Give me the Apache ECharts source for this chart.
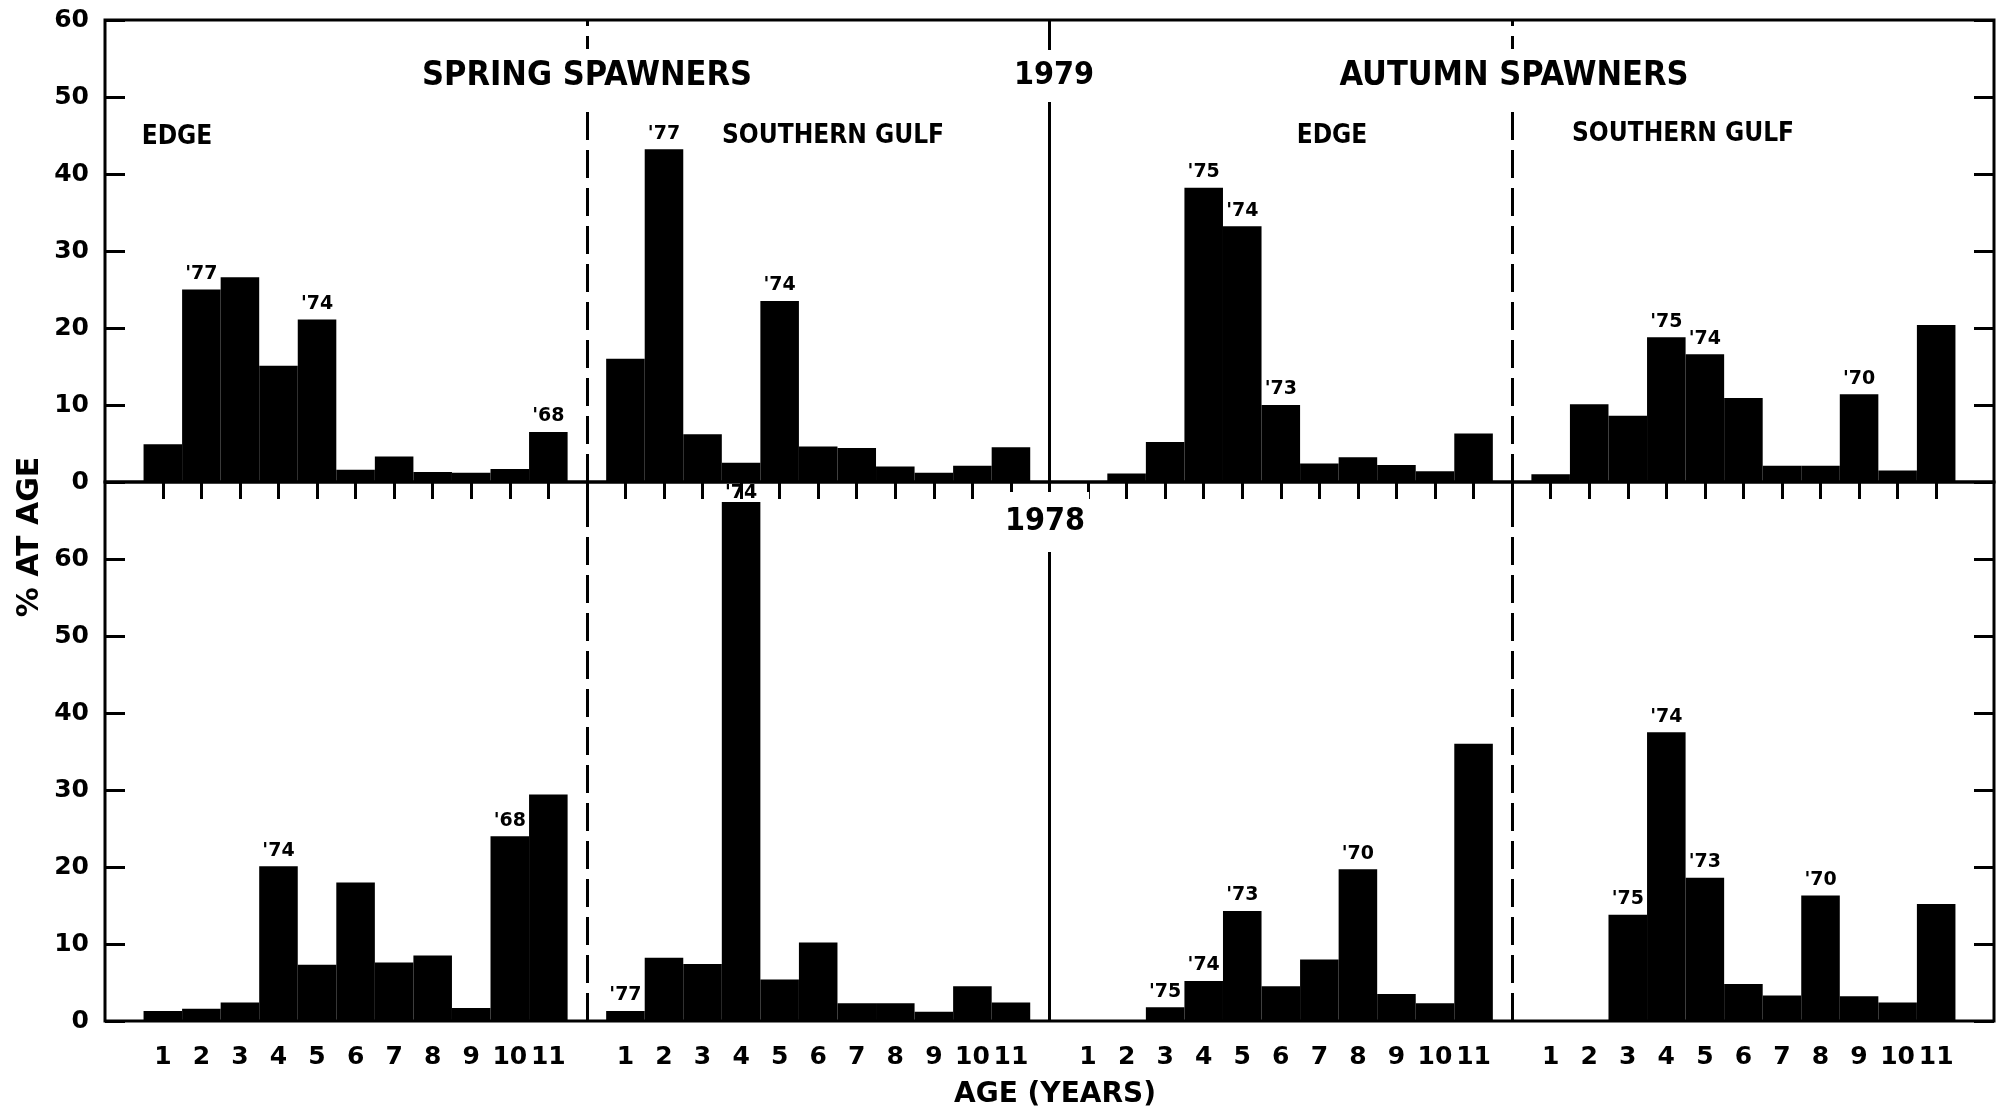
<!DOCTYPE html>
<html>
<head>
<meta charset="utf-8">
<script src="https://cdn.jsdelivr.net/npm/echarts@6/dist/echarts.min.js"></script>
<style>
  html, body { margin: 0; padding: 0; background: #fff; }
  #chart { width: 1996px; height: 1112px; }
</style>
</head>
<body>
<div id="chart"></div>
<script>
// ages on the x axis of every panel
const ageLabels = ['1', '2', '3', '4', '5', '6', '7', '8', '9', '10', '11'];

// % at age, 1979 (top row)
const spring1979Edge = [4.9, 25.0, 26.6, 15.1, 21.1, 1.6, 3.3, 1.3, 1.2, 1.7, 6.5];
const spring1979Gulf = [16.0, 43.2, 6.2, 2.5, 23.5, 4.6, 4.4, 2.0, 1.2, 2.1, 4.5];
const autumn1979Edge = [0, 1.1, 5.2, 38.2, 33.2, 10.0, 2.4, 3.2, 2.2, 1.4, 6.3];
const autumn1979Gulf = [1.0, 10.1, 8.6, 18.8, 16.6, 10.9, 2.1, 2.1, 11.4, 1.5, 20.4];

// % at age, 1978 (bottom row)
const spring1978Edge = [1.3, 1.6, 2.4, 20.1, 7.3, 18.0, 7.6, 8.5, 1.7, 24.0, 29.4];
const spring1978Gulf = [1.3, 8.2, 7.4, 67.4, 5.4, 10.2, 2.3, 2.3, 1.2, 4.5, 2.4];
const autumn1978Edge = [0, 0, 1.8, 5.2, 14.3, 4.5, 8.0, 19.7, 3.5, 2.3, 36.0];
const autumn1978Gulf = [0, 0, 13.8, 37.5, 18.6, 4.8, 3.3, 16.3, 3.2, 2.4, 15.2];

// year-class tags: [age, text]
const tagsSpring1979Edge = [[2, "'77"], [5, "'74"], [11, "'68"]];
const tagsSpring1979Gulf = [[2, "'77"], [5, "'74"]];
const tagsAutumn1979Edge = [[4, "'75"], [5, "'74"], [6, "'73"]];
const tagsAutumn1979Gulf = [[4, "'75"], [5, "'74"], [9, "'70"]];
const tagsSpring1978Edge = [[4, "'74"], [10, "'68"]];
const tagsSpring1978Gulf = [[1, "'77"], [4, "'74"]];
const tagsAutumn1978Edge = [[3, "'75"], [4, "'74"], [5, "'73"], [8, "'70"]];
const tagsAutumn1978Gulf = [[3, "'75"], [4, "'74"], [5, "'73"], [8, "'70"]];

const yTicks1979 = [0, 10, 20, 30, 40, 50, 60];
const yTicks1978 = [0, 10, 20, 30, 40, 50, 60];

const FONT = 'DejaVu Sans';
const FONT_C = '"DejaVu Sans Condensed", "DejaVu Sans"';

// one empty slot before, between and after the four panels
const categories = [''];
for (let p = 0; p < 4; p++) {
    ageLabels.forEach(a => categories.push(a));
    categories.push('');
}

// tags on bars that nearly reach the panel top sit tight on the bar
function buildRow(panels, tags, max) {
    const data = ['-'];
    panels.forEach((vals, p) => {
        vals.forEach((v, i) => {
            const tag = tags[p].find(t => t[0] === i + 1);
            if (!tag) {
                data.push(v);
                return;
            }
            const lbl = {show: true, formatter: tag[1]};
            if (v > max - 5) lbl.distance = 0;
            data.push({value: v, label: lbl});
        });
        data.push('-');
    });
    return data;
}

const row1979 = buildRow(
    [spring1979Edge, spring1979Gulf, autumn1979Edge, autumn1979Gulf],
    [tagsSpring1979Edge, tagsSpring1979Gulf, tagsAutumn1979Edge, tagsAutumn1979Gulf], 60);
const row1978 = buildRow(
    [spring1978Edge, spring1978Gulf, autumn1978Edge, autumn1978Gulf],
    [tagsSpring1978Edge, tagsSpring1978Gulf, tagsAutumn1978Edge, tagsAutumn1978Gulf], 70);

// divider slots between panels
const dashed = {type: [28, 10], width: 3, color: '#000'};
const solid = {type: 'solid', width: 3, color: '#000'};
const dividers = {
    silent: true,
    symbol: ['none', 'none'],
    label: {show: false},
    animation: false,
    data: [
        {xAxis: 12, lineStyle: dashed},
        {xAxis: 24, lineStyle: solid},
        {xAxis: 36, lineStyle: dashed}
    ]
};

const barBase = {
    type: 'bar',
    barCategoryGap: '0%',
    itemStyle: {color: '#000'},
    label: {
        show: false, position: 'top', distance: 7,
        fontFamily: FONT, fontWeight: 'bold', fontSize: 19, lineHeight: 17, color: '#000'
    },
    silent: true,
    animation: false,
    markLine: dividers
};

const yLeft = (grid, max, ticks) => ({
    type: 'value', gridIndex: grid, position: 'left', min: 0, max: max, interval: 10,
    axisLine: {show: false},
    axisTick: {show: true, inside: true, length: 20, lineStyle: {width: 3, color: '#000'}},
    axisLabel: {
        fontFamily: FONT, fontWeight: 'bold', fontSize: 25, color: '#000', margin: 16,
        formatter: v => ticks.includes(v) ? String(v) : ''
    },
    splitLine: {show: false}
});
const yRight = (grid, max) => ({
    type: 'value', gridIndex: grid, position: 'right', min: 0, max: max, interval: 10,
    axisLine: {show: false},
    axisTick: {show: true, inside: true, length: 20, lineStyle: {width: 3, color: '#000'}},
    axisLabel: {show: false},
    splitLine: {show: false}
});

const chart = echarts.init(document.getElementById('chart'), null, {renderer: 'canvas'});

const txt = (text, x, y, font, extra) => ({
    type: 'text', x: x, y: y, z: 100,
    style: Object.assign({
        text: text, fill: '#000', font: font,
        align: 'center', verticalAlign: 'middle'
    }, extra || {})
});
const cover = {backgroundColor: '#fff', padding: [10, 4]};

chart.setOption({
    backgroundColor: '#fff',
    animation: false,
    grid: [
        {left: 105, top: 20, width: 1889, height: 462, show: true, borderColor: '#000', borderWidth: 3,
            containLabel: false, outerBoundsMode: 'none'},
        {left: 105, top: 482, width: 1889, height: 539, show: true, borderColor: '#000', borderWidth: 3,
            containLabel: false, outerBoundsMode: 'none'}
    ],
    xAxis: [
        {
            type: 'category', gridIndex: 0, position: 'top', data: categories, boundaryGap: true,
            axisLine: {show: false},
            axisTick: {
                show: true, inside: true, length: 17, alignWithLabel: true,
                interval: (i) => i >= 1 && i <= 47,
                lineStyle: {width: 3, color: '#000'}
            },
            axisLabel: {show: false}
        },
        {
            type: 'category', gridIndex: 1, position: 'bottom', data: categories, boundaryGap: true,
            axisLine: {show: false},
            axisTick: {show: false},
            axisLabel: {
                interval: 0, fontFamily: FONT, fontWeight: 'bold', fontSize: 25, color: '#000', margin: 24
            }
        }
    ],
    yAxis: [yLeft(0, 60, yTicks1979), yRight(0, 60), yLeft(1, 70, yTicks1978), yRight(1, 70)],
    series: [
        Object.assign({}, barBase, {xAxisIndex: 0, yAxisIndex: 0, data: row1979}),
        Object.assign({}, barBase, {xAxisIndex: 1, yAxisIndex: 2, data: row1978, z: 5})
    ],
    graphic: [
        txt('SPRING SPAWNERS', 587, 76, 'bold 34px ' + FONT_C, cover),
        txt('1979', 1054, 76, 'bold 32px ' + FONT_C, cover),
        txt('AUTUMN SPAWNERS', 1514, 76, 'bold 34px ' + FONT_C, cover),
        txt('EDGE', 177, 137, 'bold 26px ' + FONT_C),
        txt('SOUTHERN GULF', 833, 136, 'bold 26px ' + FONT_C),
        txt('EDGE', 1332, 136, 'bold 26px ' + FONT_C),
        txt('SOUTHERN GULF', 1683, 134, 'bold 26px ' + FONT_C),
        txt('1978', 1045, 522, 'bold 32px ' + FONT_C, {backgroundColor: '#fff', padding: [14, 4]}),
        {
            type: 'text', x: 30, y: 537, rotation: Math.PI / 2, z: 100,
            style: {text: '% AT AGE', fill: '#000', font: 'bold 30px ' + FONT, align: 'center', verticalAlign: 'middle'}
        },
        txt('AGE (YEARS)', 1055, 1095, 'bold 28px ' + FONT)
    ]
});
</script>
</body>
</html>
